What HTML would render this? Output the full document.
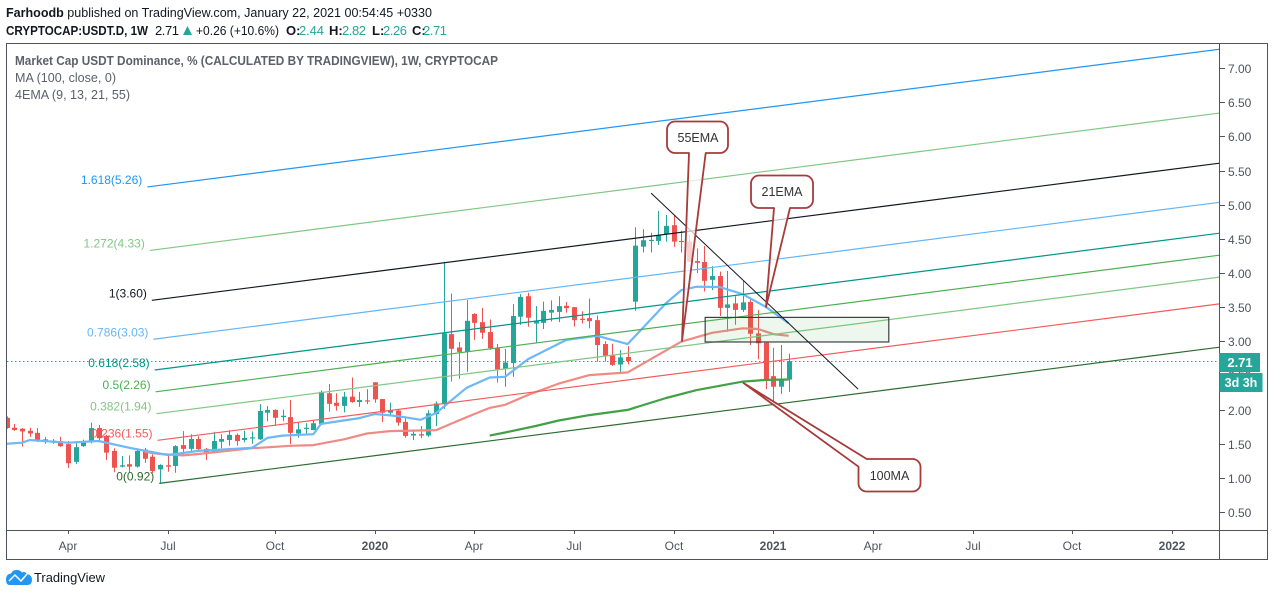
<!DOCTYPE html>
<html lang="en">
<head>
<meta charset="utf-8">
<title>Market Cap USDT Dominance</title>
<style>
html,body{margin:0;padding:0;background:#fff;width:1274px;height:596px;overflow:hidden}
svg{display:block;font-family:"Liberation Sans",sans-serif}
.hdr{font-size:13px;fill:#131722}
.b{font-weight:bold}
.teal{fill:#26a69a}
.leg{font-size:13px;fill:#5d606b}
.axis{font-size:12px;fill:#50535e}
.fib{font-size:12px}
.co{font-size:12.5px;fill:#333}
</style>
</head>
<body>
<svg id="chart" width="1274" height="596" viewBox="0 0 1274 596" xmlns="http://www.w3.org/2000/svg">
  <defs>
    <clipPath id="plot-clip"><rect x="7" y="44" width="1212.5" height="486"/></clipPath>
  </defs>
  <text class="hdr" x="6" y="17" textLength="426" lengthAdjust="spacingAndGlyphs"><tspan font-weight="bold">Farhoodb</tspan> published on TradingView.com, January 22, 2021 00:54:45 +0330</text>
  <g>
    <text class="hdr b" x="6" y="35" textLength="142" lengthAdjust="spacingAndGlyphs">CRYPTOCAP:USDT.D, 1W</text>
    <text class="hdr" x="155" y="35" textLength="24">2.71</text>
    <polygon points="183,35 192,35 187.5,26" fill="#26a69a"/>
    <text class="hdr" x="196" y="35" textLength="83" lengthAdjust="spacingAndGlyphs">+0.26 (+10.6%)</text>
    <text class="hdr b" x="286" y="35">O:</text><text class="hdr teal" x="299" y="35" textLength="25">2.44</text>
    <text class="hdr b" x="329" y="35">H:</text><text class="hdr teal" x="342" y="35" textLength="24">2.82</text>
    <text class="hdr b" x="372" y="35">L:</text><text class="hdr teal" x="383" y="35" textLength="24">2.26</text>
    <text class="hdr b" x="412" y="35">C:</text><text class="hdr teal" x="423" y="35" textLength="24">2.71</text>
  </g>
  <rect x="6.5" y="43.5" width="1261" height="516" fill="#fff" stroke="#50535e" stroke-width="1"/>
  <g id="price-line" clip-path="url(#plot-clip)"></g>
  <g id="candles" clip-path="url(#plot-clip)"></g>
  <g id="indicators" clip-path="url(#plot-clip)"></g>
  <g id="fib" clip-path="url(#plot-clip)"></g>
  <g id="drawings" clip-path="url(#plot-clip)"></g>

  <g>
    <path d="M675,121.5H720a8,8 0 0 1 8,8V145a8,8 0 0 1 -8,8H705.7L682,341L689,153H675a8,8 0 0 1 -8,-8V129.5a8,8 0 0 1 8,-8Z" fill="#fff" fill-opacity=".72" stroke="#a83a3a" stroke-width="1.8" stroke-linejoin="round"/>
    <text class="co" x="698" y="142" text-anchor="middle">55EMA</text>
  </g>
  <g>
    <path d="M759,175.5H805a8,8 0 0 1 8,8V200a8,8 0 0 1 -8,8H790L766,307L774,208H759a8,8 0 0 1 -8,-8V183.5a8,8 0 0 1 8,-8Z" fill="#fff" fill-opacity=".72" stroke="#a83a3a" stroke-width="1.8" stroke-linejoin="round"/>
    <text class="co" x="782" y="196" text-anchor="middle">21EMA</text>
  </g>
  <g>
    <path d="M743.5,383L866.7,459H912.5a8,8 0 0 1 8,8V483.5a8,8 0 0 1 -8,8H866.5a8,8 0 0 1 -8,-8V466.7Z" fill="#fff" fill-opacity=".72" stroke="#a83a3a" stroke-width="1.8" stroke-linejoin="round"/>
    <text class="co" x="889.5" y="480" text-anchor="middle">100MA</text>
  </g>

  <g>
    <text class="leg b" x="15" y="65" textLength="483" lengthAdjust="spacingAndGlyphs">Market Cap USDT Dominance, % (CALCULATED BY TRADINGVIEW), 1W, CRYPTOCAP</text>
    <text class="leg" x="15" y="82" textLength="101" lengthAdjust="spacingAndGlyphs">MA (100, close, 0)</text>
    <text class="leg" x="15" y="99" textLength="115" lengthAdjust="spacingAndGlyphs">4EMA (9, 13, 21, 55)</text>
  </g>

  <line x1="1219.5" y1="44" x2="1219.5" y2="559" stroke="#50535e"/>
  <line x1="7" y1="530.5" x2="1267" y2="530.5" stroke="#50535e"/>
  <g id="y-axis"></g>
  <g id="x-axis"></g>

  <g>
    <rect x="1219" y="353" width="41" height="19" fill="#26a69a"/>
    <text x="1240" y="367" text-anchor="middle" font-size="13" font-weight="bold" fill="#fff">2.71</text>
  </g>
  <g>
    <rect x="1219.5" y="373" width="43" height="19" fill="#26a69a"/>
    <text x="1241" y="387" text-anchor="middle" font-size="12.5" font-weight="bold" fill="#fff">3d 3h</text>
  </g>

  <g>
    <path d="M6,580 Q6,574 11,573.5 Q13,569.5 17,570 Q20,570 22,572.5 Q25,571 27,574 Q32,575 32,580 Q32,585 27,585 H10 Q6,585 6,580Z" fill="#2196f3"/>
    <path d="M9,581 L15,575 L21,581 L27,574" fill="none" stroke="#fff" stroke-width="1.5"/>
    <text x="34" y="582" font-size="13" fill="#131722" textLength="71" lengthAdjust="spacingAndGlyphs">TradingView</text>
  </g>
</svg>
<script>
var opens=[1.88,1.735,1.72,1.69,1.66,1.565,1.515,1.535,1.495,1.235,1.465,1.54,1.73,1.615,1.395,1.165,1.20,1.165,1.415,1.31,1.125,1.185,1.175,1.48,1.425,1.57,1.425,1.37,1.53,1.555,1.63,1.555,1.58,1.565,1.955,1.995,1.89,1.89,1.65,1.72,1.70,1.79,2.24,2.10,2.055,2.19,2.11,2.135,2.40,2.155,1.955,1.985,1.82,1.62,1.64,1.62,1.935,2.08,3.105,2.91,2.85,3.40,3.28,3.135,2.90,2.60,2.68,3.36,3.66,3.26,3.27,3.42,3.43,3.52,3.50,3.33,3.34,3.31,2.96,2.80,2.66,2.77,3.58,4.385,4.475,4.47,4.57,4.70,4.47,4.46,4.175,4.16,3.90,3.955,3.49,3.555,3.46,3.575,3.115,2.98,2.49,2.335,2.44];
var highs=[1.90,1.79,1.73,1.735,1.73,1.60,1.57,1.60,1.54,1.535,1.56,1.81,1.775,1.63,1.435,1.32,1.33,1.42,1.44,1.345,1.20,1.32,1.48,1.685,1.64,1.61,1.44,1.675,1.64,1.70,1.65,1.69,1.68,2.08,2.05,2.005,2.0,2.14,1.81,1.80,1.85,2.28,2.375,2.24,2.26,2.47,2.26,2.30,2.40,2.155,2.10,2.0,1.87,1.71,1.76,1.99,2.12,4.165,3.70,2.99,3.605,3.41,3.49,3.32,2.96,2.89,3.545,3.69,3.71,3.515,3.58,3.60,3.66,3.575,3.50,3.44,3.625,3.38,3.0,2.965,2.87,2.93,4.67,4.64,4.59,4.91,4.85,4.85,4.62,4.56,4.36,4.395,4.10,4.02,4.03,3.66,3.89,3.63,3.46,2.98,2.905,2.945,2.82];
var lows=[1.72,1.69,1.46,1.60,1.525,1.50,1.50,1.455,1.145,1.205,1.455,1.505,1.535,1.26,1.085,1.155,1.08,1.15,1.22,1.07,0.92,1.09,1.075,1.335,1.395,1.38,1.26,1.36,1.435,1.47,1.47,1.52,1.50,1.555,1.83,1.76,1.83,1.495,1.59,1.62,1.70,1.78,1.97,1.985,1.96,2.10,2.04,2.08,2.10,1.82,1.92,1.765,1.59,1.555,1.58,1.60,1.76,2.01,2.41,2.45,2.555,3.02,3.035,2.875,2.395,2.335,2.48,3.24,3.215,2.97,3.18,3.29,3.28,3.42,3.215,3.26,3.19,2.70,2.705,2.64,2.52,2.66,3.45,4.30,4.30,4.41,4.46,4.385,4.30,4.16,4.0,3.73,3.75,3.37,3.14,3.24,3.43,2.945,2.735,2.30,2.09,2.23,2.26];
var closes=[1.73,1.70,1.68,1.65,1.555,1.525,1.545,1.465,1.215,1.45,1.54,1.73,1.58,1.37,1.15,1.185,1.165,1.395,1.28,1.10,1.19,1.165,1.465,1.425,1.57,1.42,1.375,1.54,1.57,1.63,1.54,1.585,1.595,1.98,1.995,1.88,1.91,1.66,1.71,1.735,1.80,2.26,2.085,2.055,2.19,2.11,2.14,2.12,2.15,1.955,1.995,1.81,1.615,1.645,1.62,1.945,2.09,3.115,2.89,2.845,3.30,3.27,3.125,2.90,2.59,2.69,3.37,3.65,3.345,3.295,3.445,3.46,3.515,3.485,3.31,3.315,3.295,2.945,2.79,2.655,2.765,2.71,4.40,4.48,4.485,4.55,4.69,4.46,4.455,4.165,4.15,3.885,3.955,3.49,3.54,3.46,3.57,3.11,2.97,2.42,2.335,2.44,2.71];

var blueWeeks=[0,2,3,8,12,16,21,25,32,34,36,40,41,46,48,51,54,56,60,63,65,68,73,77,81,86,88,90,93,96,99,102];
var blueValues=[1.50,1.515,1.555,1.515,1.54,1.44,1.335,1.395,1.44,1.585,1.62,1.64,1.79,1.875,1.935,1.905,1.85,1.95,2.32,2.47,2.48,2.74,3.02,3.08,2.96,3.56,3.75,3.80,3.795,3.69,3.505,3.265];
var pinkWeeks=[18,20,23,25,32,33,37,40,44,47,50,56,60,63,65,68,72,76,81,88,92,96,98,100,102];
var pinkValues=[1.38,1.35,1.33,1.35,1.435,1.44,1.47,1.48,1.565,1.65,1.685,1.70,1.89,2.025,2.07,2.215,2.38,2.505,2.545,2.995,3.125,3.19,3.18,3.105,3.08];
var maWeeks=[63,65,69,72,76,81,86,90,96,99,102];
var maValues=[1.62,1.665,1.76,1.84,1.92,1.995,2.17,2.285,2.41,2.435,2.44];

var fibRatios=["0","0.236","0.382","0.5","0.618","0.786","1","1.272","1.618"];
var fibPrices=[0.92,1.55,1.94,2.26,2.58,3.03,3.60,4.33,5.26];
var fibColors=["#2e6b30","#f55b5b","#81c784","#4caf50","#009688","#64b5f6","#131722","#81c784","#2196f3"];

var yTicks=[7,6.5,6,5.5,5,4.5,4,3.5,3,2.5,2,1.5,1,0.5];
var xTickWeeks=[8,21,35,48,61,74,87,100,113,126,139,152];
var xTickLabels=["Apr","Jul","Oct","2020","Apr","Jul","Oct","2021","Apr","Jul","Oct","2022"];
var lastPrice=2.71;

function xAt(w){return 6.7+w*7.667;}
function yAt(p){return 546.2-p*68.3;}
var NS="http://www.w3.org/2000/svg";
function mk(tag,parent,attrs){
  var el=document.createElementNS(NS,tag);
  for(var k in attrs){el.setAttribute(k,attrs[k]);}
  parent.appendChild(el);
  return el;
}
function polyPoints(ws,vs){
  return ws.map(function(w,i){return xAt(w).toFixed(1)+","+yAt(vs[i]).toFixed(1);}).join(" ");
}

var priceLineG=document.getElementById("price-line");
var lastY=Math.round(yAt(lastPrice))+.5;
var pl=mk("line",priceLineG,{x1:7,x2:1219,y1:lastY,y2:lastY,stroke:"#26a69a","stroke-width":1,"stroke-dasharray":"1.5 2.5"});



var candleG=document.getElementById("candles");
opens.forEach(function(openVal,i){
  var up=closes[i]>=openVal;
  var col=up?"#26a69a":"#ef5350";
  var cx=Math.round(xAt(i));
  var g=mk("g",candleG,{});
  
  
  mk("line",g,{x1:cx+.5,x2:cx+.5,y1:yAt(highs[i]),y2:yAt(lows[i]),stroke:col,"stroke-width":1});
  var bodyTop=yAt(Math.max(openVal,closes[i])),bodyBot=yAt(Math.min(openVal,closes[i]));
  mk("rect",g,{x:cx-2,y:bodyTop,width:5,height:Math.max(bodyBot-bodyTop,1.2),fill:col});
});

var indG=document.getElementById("indicators");
var maLine=mk("polyline",indG,{points:polyPoints(maWeeks,maValues),fill:"none",stroke:"#43a047","stroke-width":2.2,"stroke-linejoin":"round"});


var pinkLine=mk("polyline",indG,{points:polyPoints(pinkWeeks,pinkValues),fill:"none",stroke:"#f08a85","stroke-width":2.2,"stroke-linejoin":"round"});


var blueLine=mk("polyline",indG,{points:polyPoints(blueWeeks,blueValues),fill:"none",stroke:"#6db8f7","stroke-width":2.2,"stroke-linejoin":"round"});



var fibG=document.getElementById("fib");
var svgRoot=document.getElementById("chart");
var channelSlope=0.01442;
var channelLean=0.36;
fibPrices.forEach(function(p,i){
  var w0=19.9-(p-fibPrices[0])*channelLean;
  var w1=160;
  var ln=mk("line",fibG,{x1:xAt(w0),y1:yAt(p),x2:xAt(w1),y2:yAt(p+(w1-w0)*channelSlope),stroke:fibColors[i],"stroke-width":1.2});
  
  
  var t=mk("text",svgRoot,{class:"fib",x:xAt(w0)-5,y:yAt(p)-3,"text-anchor":"end",fill:fibColors[i]});
  
  
  t.textContent=fibRatios[i]+"("+p.toFixed(2)+")";
});

var drawG=document.getElementById("drawings");
var zoneWeeks=[91.1,115.05];
var zonePrices=[3.35,2.99];
var zone=mk("rect",drawG,{x:xAt(zoneWeeks[0]),y:yAt(zonePrices[0]),width:xAt(zoneWeeks[1])-xAt(zoneWeeks[0]),height:yAt(zonePrices[1])-yAt(zonePrices[0]),fill:"#4caf50","fill-opacity":.1,stroke:"#3c4043","stroke-width":1.2});


var trendWeeks=[84.05,111.05];
var trendPrices=[5.17,2.30];
var trend=mk("line",drawG,{x1:xAt(trendWeeks[0]),y1:yAt(trendPrices[0]),x2:xAt(trendWeeks[1]),y2:yAt(trendPrices[1]),stroke:"#131722","stroke-width":1});



var yG=document.getElementById("y-axis");
yTicks.forEach(function(v){
  var y=Math.round(yAt(v))+.5;
  var tk=mk("line",yG,{x1:1220,x2:1225,y1:y,y2:y,stroke:"#50535e"});
  
  
  var t=mk("text",yG,{class:"axis",x:1228,y:y+4.5});
  
  
  t.textContent=v.toFixed(2);
});

var xG=document.getElementById("x-axis");
xTickWeeks.forEach(function(w,i){
  var x=Math.round(xAt(w))+.5;
  var tk=mk("line",xG,{x1:x,x2:x,y1:531,y2:534,stroke:"#50535e"});
  
  
  var t=mk("text",xG,{class:"axis",x:x-0.5,y:550,"text-anchor":"middle"});
  
  
  if(/^\d+$/.test(xTickLabels[i])){t.setAttribute("font-weight","bold");}
  t.textContent=xTickLabels[i];
});
</script>
</body>
</html>
